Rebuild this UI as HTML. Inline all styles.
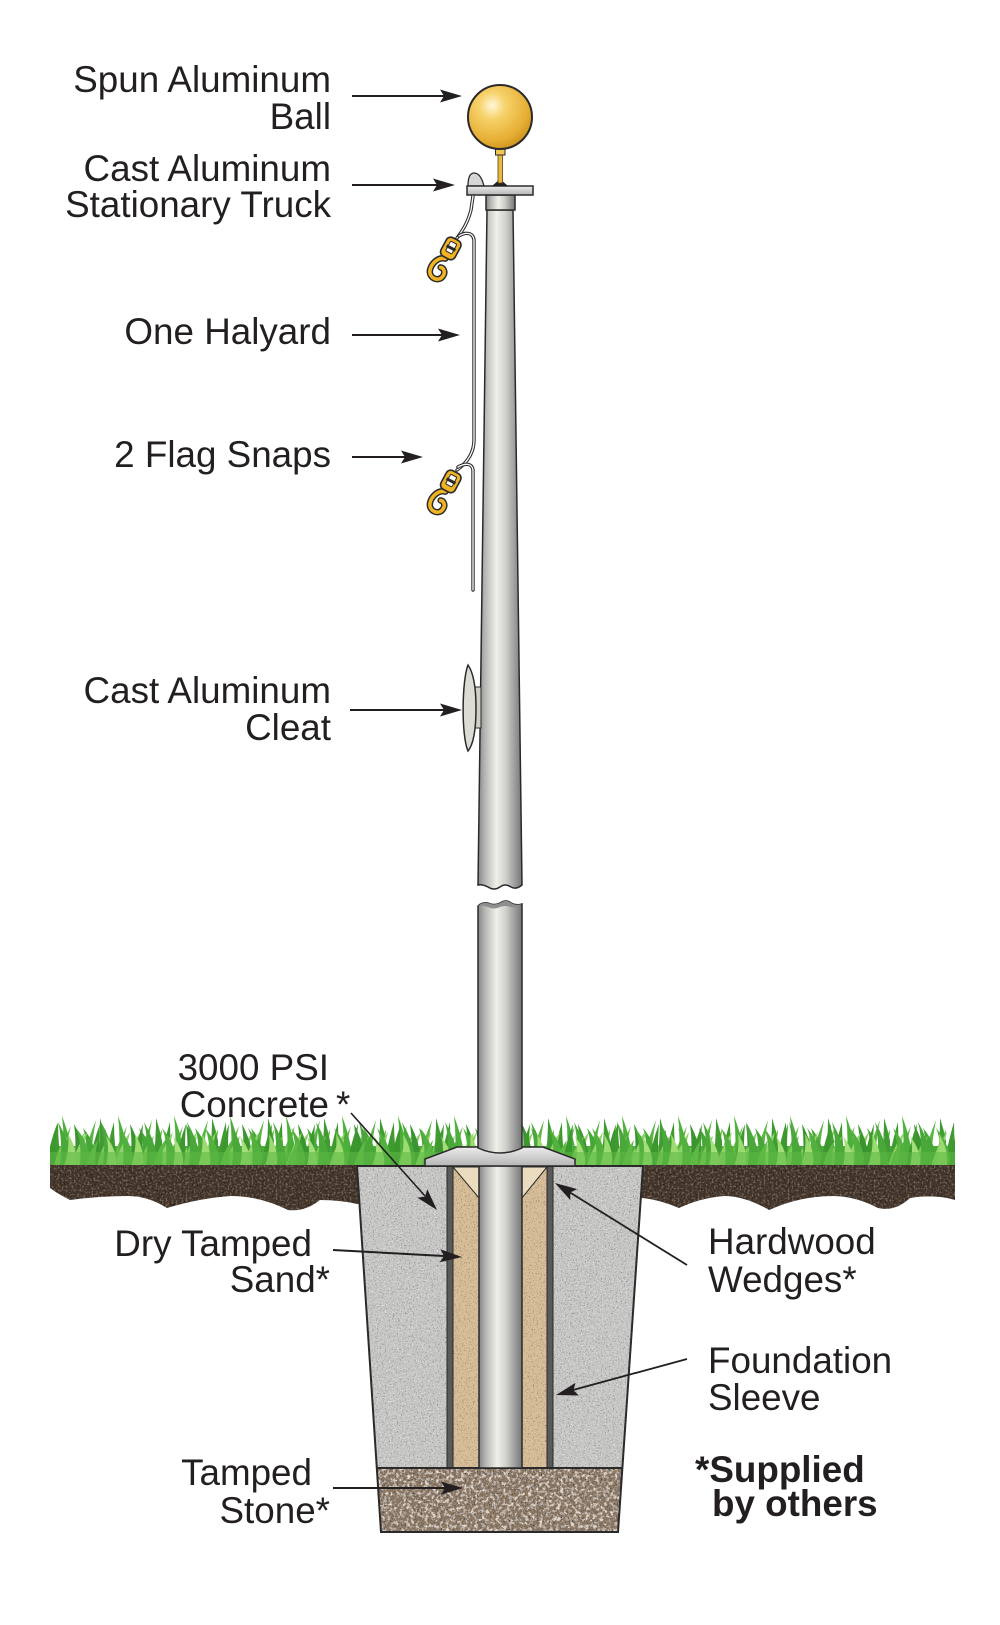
<!DOCTYPE html>
<html><head><meta charset="utf-8"><style>html,body{margin:0;padding:0;background:#fff}svg{display:block}</style></head>
<body>
<svg width="1000" height="1625" viewBox="0 0 1000 1625" xmlns="http://www.w3.org/2000/svg">
<defs>
  <linearGradient id="pg" x1="0" y1="0" x2="1" y2="0">
    <stop offset="0" stop-color="#858585"/>
    <stop offset="0.15" stop-color="#b4b4b2"/>
    <stop offset="0.42" stop-color="#f1efe9"/>
    <stop offset="0.62" stop-color="#d2d2ce"/>
    <stop offset="0.86" stop-color="#979797"/>
    <stop offset="1" stop-color="#767676"/>
  </linearGradient>
  <linearGradient id="fg" x1="0" y1="0" x2="0" y2="1">
    <stop offset="0" stop-color="#ececec"/>
    <stop offset="1" stop-color="#b5b5b5"/>
  </linearGradient>
  <radialGradient id="bg" cx="0.38" cy="0.32" r="0.7">
    <stop offset="0" stop-color="#fff7d8"/>
    <stop offset="0.3" stop-color="#f6d26a"/>
    <stop offset="0.8" stop-color="#e6ad33"/>
    <stop offset="1" stop-color="#cf951f"/>
  </radialGradient>
  <filter id="dk" x="0" y="0" width="1" height="1">
    <feTurbulence type="fractalNoise" baseFrequency="0.75" numOctaves="2" seed="3"/>
    <feColorMatrix type="matrix" values="0 0 0 0 0  0 0 0 0 0  0 0 0 0 0  -6 0 0 0 2.5"/>
    <feComposite operator="in" in2="SourceGraphic"/>
  </filter>
  <filter id="lt" x="0" y="0" width="1" height="1">
    <feTurbulence type="fractalNoise" baseFrequency="0.75" numOctaves="2" seed="11"/>
    <feColorMatrix type="matrix" values="0 0 0 0 1  0 0 0 0 1  0 0 0 0 1  6 0 0 0 -3.5"/>
    <feComposite operator="in" in2="SourceGraphic"/>
  </filter>
  <filter id="slt2" x="0" y="0" width="1" height="1">
    <feTurbulence type="fractalNoise" baseFrequency="0.5" numOctaves="2" seed="17"/>
    <feColorMatrix type="matrix" values="0 0 0 0 0.62  0 0 0 0 0.5  0 0 0 0 0.38  7 0 0 0 -3.7"/>
    <feComposite operator="in" in2="SourceGraphic"/>
  </filter>
  <filter id="sdk" x="0" y="0" width="1" height="1">
    <feTurbulence type="fractalNoise" baseFrequency="0.28" numOctaves="2" seed="5"/>
    <feColorMatrix type="matrix" values="0 0 0 0 0.22  0 0 0 0 0.19  0 0 0 0 0.16  -7 0 0 0 3.1"/>
    <feComposite operator="in" in2="SourceGraphic"/>
  </filter>
  <filter id="slt" x="0" y="0" width="1" height="1">
    <feTurbulence type="fractalNoise" baseFrequency="0.28" numOctaves="2" seed="21"/>
    <feColorMatrix type="matrix" values="0 0 0 0 0.88  0 0 0 0 0.8  0 0 0 0 0.7  7 0 0 0 -3.8"/>
    <feComposite operator="in" in2="SourceGraphic"/>
  </filter>
  <filter id="smd" x="0" y="0" width="1" height="1">
    <feTurbulence type="fractalNoise" baseFrequency="0.32" numOctaves="2" seed="41"/>
    <feColorMatrix type="matrix" values="0 0 0 0 0.6  0 0 0 0 0.55  0 0 0 0 0.52  7 0 0 0 -3.8"/>
    <feComposite operator="in" in2="SourceGraphic"/>
  </filter>
  <pattern id="grA" x="50" y="1112" width="56" height="54" patternUnits="userSpaceOnUse">
    <path d="M-2,54 Q2,30 8,10 Q8,34 12,54Z" fill="#3f9b2f"/>
    <path d="M5,54 Q11,32 21,14 Q15,36 17,54Z" fill="#67bd48"/>
    <path d="M12,54 Q15,28 12,4 Q22,30 23,54Z" fill="#4caf3a"/>
    <path d="M17,54 Q25,32 35,20 Q29,38 29,54Z" fill="#86cf5f"/>
    <path d="M24,54 Q27,32 24,12 Q35,32 35,54Z" fill="#3a9430"/>
    <path d="M30,54 Q37,30 46,8 Q41,34 41,54Z" fill="#5ab544"/>
    <path d="M36,54 Q38,30 33,16 Q47,32 46,54Z" fill="#46a636"/>
    <path d="M42,54 Q47,32 57,16 Q52,38 53,54Z" fill="#74c452"/>
    <path d="M47,54 Q50,28 50,6 Q58,30 59,54Z" fill="#409c32"/>
  </pattern>
  <pattern id="grB" x="71" y="1112" width="43" height="54" patternUnits="userSpaceOnUse">
    <path d="M0,54 Q6,34 16,20 Q11,40 12,54Z" fill="#8fd468"/>
    <path d="M9,54 Q11,30 5,16 Q19,32 20,54Z" fill="#52b03e"/>
    <path d="M18,54 Q22,30 29,12 Q27,38 29,54Z" fill="#3d972f"/>
    <path d="M26,54 Q30,34 40,24 Q35,42 37,54Z" fill="#7ac856"/>
    <path d="M32,54 Q35,30 30,10 Q43,32 44,54Z" fill="#4aa83a"/>
  </pattern>
  <pattern id="grC" x="60" y="1112" width="67" height="54" patternUnits="userSpaceOnUse">
    <path d="M4,54 Q10,36 8,22 Q18,38 16,54Z" fill="#9bdb70"/>
    <path d="M26,54 Q30,38 38,28 Q34,44 36,54Z" fill="#5db845"/>
    <path d="M46,54 Q50,36 46,24 Q58,40 56,54Z" fill="#a3de78"/>
  </pattern>
</defs>

<!-- Grass -->
<rect x="50" y="1146" width="905" height="22" fill="#4caa3a"/>
<rect x="50" y="1112" width="905" height="54" fill="url(#grA)"/>
<rect x="50" y="1112" width="905" height="54" fill="url(#grB)"/>
<rect x="50" y="1112" width="905" height="54" fill="url(#grC)"/>
<rect x="50" y="1152" width="905" height="14" fill="#5cb844" opacity="0.55"/>

<!-- Soil -->
<path d="M50,1165 L955,1165 L955,1200 Q935,1194 910,1198 Q895,1212 878,1208 Q855,1196 833,1196 Q800,1196 769,1210 Q745,1196 724,1196 Q700,1198 679,1208 Q660,1200 643,1198 L357,1204 Q340,1200 320,1200 Q305,1212 288,1210 Q260,1196 231,1196 Q200,1198 167,1208 Q148,1196 128,1196 Q100,1196 70,1200 Q58,1194 50,1188 Z" fill="#43352b"/>
<path d="M50,1165 L955,1165 L955,1200 Q935,1194 910,1198 Q895,1212 878,1208 Q855,1196 833,1196 Q800,1196 769,1210 Q745,1196 724,1196 Q700,1198 679,1208 Q660,1200 643,1198 L357,1204 Q340,1200 320,1200 Q305,1212 288,1210 Q260,1196 231,1196 Q200,1198 167,1208 Q148,1196 128,1196 Q100,1196 70,1200 Q58,1194 50,1188 Z" fill="#000" filter="url(#dk)" opacity="0.6"/>
<path d="M50,1165 L955,1165 L955,1200 Q935,1194 910,1198 Q895,1212 878,1208 Q855,1196 833,1196 Q800,1196 769,1210 Q745,1196 724,1196 Q700,1198 679,1208 Q660,1200 643,1198 L357,1204 Q340,1200 320,1200 Q305,1212 288,1210 Q260,1196 231,1196 Q200,1198 167,1208 Q148,1196 128,1196 Q100,1196 70,1200 Q58,1194 50,1188 Z" fill="#000" filter="url(#slt2)" opacity="0.35"/>

<!-- Concrete -->
<polygon points="357,1166 643,1166 618,1532 381,1532" fill="#c6c6c4"/>
<polygon points="357,1166 643,1166 618,1532 381,1532" fill="#000" filter="url(#dk)" opacity="0.3"/>
<polygon points="357,1166 643,1166 618,1532 381,1532" fill="#000" filter="url(#lt)" opacity="0.6"/>

<!-- Sand -->
<rect x="453" y="1166" width="26" height="302" fill="#d8bf9a"/>
<rect x="522" y="1166" width="25" height="302" fill="#d8bf9a"/>
<rect x="453" y="1166" width="26" height="302" fill="#000" filter="url(#dk)" opacity="0.3"/>
<rect x="522" y="1166" width="25" height="302" fill="#000" filter="url(#dk)" opacity="0.3"/>

<!-- Sleeve walls -->
<rect x="447" y="1166" width="6" height="302" fill="#5a5a5a" stroke="#2a2a2a" stroke-width="1"/>
<rect x="547" y="1166" width="6" height="302" fill="#5a5a5a" stroke="#2a2a2a" stroke-width="1"/>

<!-- Wedges -->
<polygon points="453,1167 479,1167 479,1198" fill="#ecdcbf" stroke="#2a2a2a" stroke-width="1"/>
<polygon points="522,1167 547,1167 522,1198" fill="#ecdcbf" stroke="#2a2a2a" stroke-width="1"/>

<!-- Stone -->
<polygon points="377,1468 622,1468 618,1532 381,1532" fill="#8e7965"/>
<polygon points="377,1468 622,1468 618,1532 381,1532" fill="#000" filter="url(#sdk)" opacity="0.9"/>
<polygon points="377,1468 622,1468 618,1532 381,1532" fill="#000" filter="url(#slt)" opacity="0.9"/>
<polygon points="377,1468 622,1468 618,1532 381,1532" fill="#000" filter="url(#smd)" opacity="0.8"/>
<polygon points="377,1468 622,1468 618,1532 381,1532" fill="#000" filter="url(#dk)" opacity="0.5"/>
<line x1="377" y1="1468" x2="622" y2="1468" stroke="#2a2a2a" stroke-width="2"/>

<!-- Concrete outline -->
<polygon points="357,1166 643,1166 618,1532 381,1532" fill="none" stroke="#2a2a2a" stroke-width="2"/>

<!-- Below ground pole -->
<rect x="479" y="1166" width="43" height="302" fill="url(#pg)" stroke="#2a2a2a" stroke-width="1.5"/>

<!-- Flange -->
<polygon points="425,1166 425,1159 457,1147 543,1147 575,1159 575,1166" fill="url(#fg)" stroke="#2a2a2a" stroke-width="1.5"/>

<!-- Lower pole (above ground) -->
<path d="M478,906 Q482,902 488,903 Q494,906 500,903 Q506,899 511,903 Q516,906 522,904 L522,1148 Q500,1158 478,1148 Z" fill="url(#pg)" stroke="#2a2a2a" stroke-width="1.5"/>
<path d="M478,906 Q482,902 488,903 Q494,906 500,903 Q506,899 511,903 Q516,906 522,904 Q516,909 511,907 Q505,905 500,907 Q494,910 488,907 Q482,905 478,906Z" fill="#8e8e8e"/>

<!-- Upper pole -->
<path d="M487,210 L513,210 L522,885 Q516,890 511,887 Q505,883 500,887 Q494,891 488,887 Q482,884 478,885 Z" fill="url(#pg)" stroke="#2a2a2a" stroke-width="1.5"/>

<!-- Cleat -->
<rect x="475" y="687" width="6" height="41" fill="#cfcfc8" stroke="#2a2a2a" stroke-width="1"/>
<path d="M468,665 C462,680 461,735 468,751 C473,745 476,730 476,708 C476,686 473,672 468,665 Z" fill="#dcdcd4" stroke="#2a2a2a" stroke-width="1.5"/>

<!-- Truck collar -->
<rect x="486" y="195" width="29" height="15" fill="url(#pg)" stroke="#2a2a2a" stroke-width="1.5"/>
<!-- Truck plate -->
<path d="M468,186 C468,178 470,173 474,173 C479,173 482,178 484,186 Z" fill="#d6d6d6" stroke="#2a2a2a" stroke-width="1.3"/>
<rect x="467" y="186" width="66" height="9" fill="url(#fg)" stroke="#2a2a2a" stroke-width="1.5"/>
<path d="M492,186 L500,179 L508,186 Z" fill="#222"/>
<!-- Stem -->
<rect x="498" y="154" width="4.5" height="29" fill="#e8b840" stroke="#5a4510" stroke-width="0.8"/>
<rect x="495.5" y="149" width="9.5" height="6" fill="#f0c555" stroke="#2a2a2a" stroke-width="1"/>
<!-- Ball -->
<circle cx="500" cy="117" r="32" fill="url(#bg)" stroke="#2a2a2a" stroke-width="2"/>

<!-- Halyard ropes -->
<g fill="none" stroke-linecap="round">
  <path d="M473,196 L471,210 C468,222 463,230 457,238" stroke="#2a2a2a" stroke-width="3.4"/>
  <path d="M473,196 L471,210 C468,222 463,230 457,238" stroke="#fff" stroke-width="1.3"/>
  <path d="M459,236 C465,232 473,232 474,240 L474,440 C474,452 468,462 457,470" stroke="#2a2a2a" stroke-width="3.4"/>
  <path d="M459,236 C465,232 473,232 474,240 L474,440 C474,452 468,462 457,470" stroke="#fff" stroke-width="1.3"/>
  <path d="M458,467 C465,463 472,463 473,470 L473,590" stroke="#2a2a2a" stroke-width="3.4"/>
  <path d="M458,467 C465,463 472,463 473,470 L473,590" stroke="#fff" stroke-width="1.3"/>
</g>

<!-- Snap 1 -->
<g transform="translate(451,248) rotate(28)">
  <path d="M0,12 C-8,14 -10,24 -8,30 C-5,37 5,36 6,29 C7,24 3,21 0,22" fill="none" stroke="#2a2a2a" stroke-width="6.5" stroke-linecap="round"/>
  <path d="M0,12 C-8,14 -10,24 -8,30 C-5,37 5,36 6,29 C7,24 3,21 0,22" fill="none" stroke="#f0b323" stroke-width="3.6" stroke-linecap="round"/>
  <rect x="-8" y="-10" width="16" height="21" rx="5" fill="#f0b323" stroke="#2a2a2a" stroke-width="1.6"/>
  <rect x="-3.5" y="-6" width="7" height="11" rx="1" fill="#fff" stroke="#2a2a2a" stroke-width="1"/>
  <rect x="-5" y="-1.5" width="10" height="3" fill="#2a2a2a"/>
</g>
<!-- Snap 2 -->
<g transform="translate(451,481) rotate(28)">
  <path d="M0,12 C-8,14 -10,24 -8,30 C-5,37 5,36 6,29 C7,24 3,21 0,22" fill="none" stroke="#2a2a2a" stroke-width="6.5" stroke-linecap="round"/>
  <path d="M0,12 C-8,14 -10,24 -8,30 C-5,37 5,36 6,29 C7,24 3,21 0,22" fill="none" stroke="#f0b323" stroke-width="3.6" stroke-linecap="round"/>
  <rect x="-8" y="-10" width="16" height="21" rx="5" fill="#f0b323" stroke="#2a2a2a" stroke-width="1.6"/>
  <rect x="-3.5" y="-6" width="7" height="11" rx="1" fill="#fff" stroke="#2a2a2a" stroke-width="1"/>
  <rect x="-5" y="-1.5" width="10" height="3" fill="#2a2a2a"/>
</g>

<!-- Arrows -->
<g stroke="#231f20" stroke-width="2" fill="#231f20">
  <line x1="352" y1="96" x2="444" y2="96"/>
  <polygon stroke="none" points="462,96 440,89.5 444,96 440,102.5"/>
  <line x1="352" y1="185" x2="437" y2="185"/>
  <polygon stroke="none" points="455,185 433,178.5 437,185 433,191.5"/>
  <line x1="352" y1="335" x2="442" y2="335"/>
  <polygon stroke="none" points="460,335 438,328.5 442,335 438,341.5"/>
  <line x1="352" y1="457" x2="405" y2="457"/>
  <polygon stroke="none" points="423,457 401,450.5 405,457 401,463.5"/>
  <line x1="350" y1="710" x2="444" y2="710"/>
  <polygon stroke="none" points="462,710 440,703.5 444,710 440,716.5"/>
  <line x1="351" y1="1113" x2="425" y2="1196" stroke-width="1.6"/>
  <polygon stroke="none" points="437,1210 417.5,1197.8 425.1,1196.5 427.3,1189.2"/>
  <line x1="333" y1="1250" x2="444" y2="1256"/>
  <polygon stroke="none" points="462,1257 439.7,1262.3 444,1256 440.4,1249.3"/>
  <line x1="687" y1="1265" x2="570" y2="1192.5" stroke-width="1.8"/>
  <polygon stroke="none" points="555,1183 577.1,1189.1 570.3,1192.5 570.3,1200.1"/>
  <line x1="687" y1="1359" x2="573" y2="1390" stroke-width="1.8"/>
  <polygon stroke="none" points="556,1395 575.5,1382.9 573.4,1390.2 578.9,1395.5"/>
  <line x1="333" y1="1488" x2="445" y2="1488"/>
  <polygon stroke="none" points="463,1488 441,1481.5 445,1488 441,1494.5"/>
</g>

<!-- Labels -->
<g font-family="'Liberation Sans', Arial, sans-serif" font-size="36.8" fill="#231f20" text-anchor="end">
  <text x="331" y="92">Spun Aluminum</text>
  <text x="331" y="129">Ball</text>
  <text x="331" y="181">Cast Aluminum</text>
  <text x="331" y="217">Stationary Truck</text>
  <text x="331" y="344">One Halyard</text>
  <text x="331" y="467">2 Flag Snaps</text>
  <text x="331" y="703">Cast Aluminum</text>
  <text x="331" y="740">Cleat</text>
  <text x="329" y="1080">3000 PSI</text>
  <text x="329" y="1117">Concrete</text>
  <text x="336" y="1117" text-anchor="start">*</text>
  <text x="312" y="1256">Dry Tamped</text>
  <text x="330" y="1292">Sand*</text>
  <text x="312" y="1485">Tamped</text>
  <text x="330" y="1523">Stone*</text>
</g>
<g font-family="'Liberation Sans', Arial, sans-serif" font-size="36.8" fill="#231f20">
  <text x="708" y="1254">Hardwood</text>
  <text x="708" y="1292">Wedges*</text>
  <text x="708" y="1373">Foundation</text>
  <text x="708" y="1410">Sleeve</text>
  <text x="695" y="1482" font-weight="bold">*Supplied</text>
  <text x="712" y="1516" font-weight="bold">by others</text>
</g>
</svg>
</body></html>
